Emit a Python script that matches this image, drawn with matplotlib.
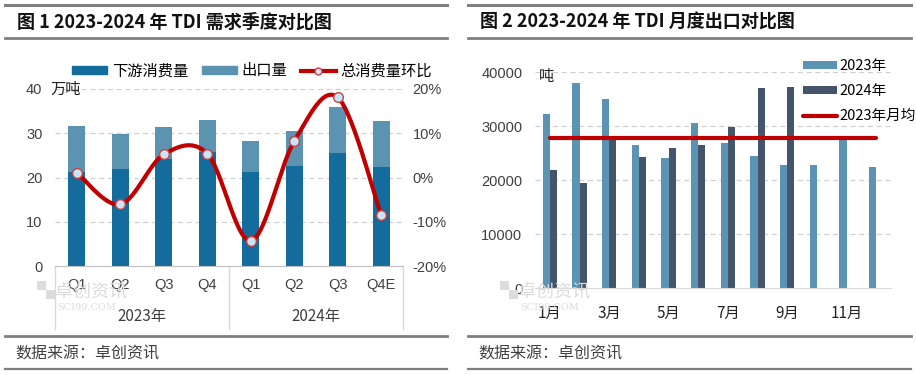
"""TDI quarterly demand and monthly export comparison, two panels side by side."""
import numpy as np
import matplotlib as mpl
import matplotlib.pyplot as plt
from matplotlib.lines import Line2D
from matplotlib.patches import Patch

mpl.rcParams.update({
    "font.family": ["Liberation Sans", "Noto Sans CJK SC", "DejaVu Sans"],
    "axes.unicode_minus": False,
})
CJK = ["Noto Sans CJK SC", "DejaVu Sans"]

# ---- figure 1 data (万吨, %) ----
quarters = ["Q1", "Q2", "Q3", "Q4", "Q1", "Q2", "Q3", "Q4E"]
years = ["2023年", "2024年"]
downstream = [21.3, 21.9, 24.1, 25.8, 21.3, 22.7, 25.5, 22.4]
exports_q = [10.4, 7.9, 7.3, 7.3, 6.9, 7.7, 10.4, 10.4]
qoq_pct = [1.1, -6.1, 5.2, 5.4, -14.3, 8.2, 18.1, -8.5]

# ---- figure 2 data (吨) ----
months = ["1月", "2月", "3月", "4月", "5月", "6月", "7月", "8月", "9月", "10月", "11月", "12月"]
exp_2023 = [32200, 37900, 35000, 26500, 24000, 30600, 26900, 24500, 22700, 22700, 27400, 22500]
exp_2024 = [21800, 19500, 27400, 24300, 26000, 26500, 29900, 37000, 37300]

C_DOWN = "#146C9C"
C_EXP = "#5B93B0"
C_RED = "#C00000"
C_23 = "#5A94B2"
C_24 = "#44546A"
C_GRID = "#D0D0D0"
W, H = 916, 375


def fx(px):
    return px / W


def fy(py):
    return 1 - py / H


def smooth(x, y, n=30):
    # Excel-style smoothed line (uniform Catmull-Rom through the points)
    x = np.asarray(x, float)
    y = np.asarray(y, float)
    px = np.concatenate([[x[0]], x, [x[-1]]])
    py = np.concatenate([[y[0]], y, [y[-1]]])
    xs, ys = [], []
    t = np.linspace(0, 1, n)
    for i in range(1, len(px) - 2):
        p0, p1, p2, p3 = (np.array([px[j], py[j]]) for j in range(i - 1, i + 3))
        c1 = p1 + (p2 - p0) / 6
        c2 = p2 - (p3 - p1) / 6
        b = ((1 - t) ** 3)[:, None] * p1 + (3 * (1 - t) ** 2 * t)[:, None] * c1 \
            + (3 * (1 - t) * t ** 2)[:, None] * c2 + (t ** 3)[:, None] * p2
        xs.append(b[:, 0])
        ys.append(b[:, 1])
    return np.concatenate(xs), np.concatenate(ys)


def panel_frame(fig, x0, x1, title):
    for yy, lw in ((5, 2.2), (38, 2.0), (336, 2.0), (369, 1.6)):
        fig.add_artist(Line2D([fx(x0), fx(x1)], [fy(yy), fy(yy)], color="#7F7F7F", lw=lw))
    fig.text(fx(x0 + 12), fy(22), title, family=CJK, fontsize=13, fontweight="bold",
             va="center", ha="left", color="#111111")
    fig.text(fx(x0 + 10), fy(354), "数据来源：卓创资讯", family=CJK, fontsize=11.5,
             va="center", ha="left", color="#404040")


def watermark(fig, x, y):
    fig.text(fx(x), fy(y), "▚卓创资讯", family=CJK, fontsize=13, color="#DCDCDC",
             va="center", ha="left", zorder=0)
    fig.text(fx(x + 20), fy(y + 15), "SCI99.COM", family=["DejaVu Serif"], fontsize=7,
             color="#DCDCDC", va="center", ha="left", zorder=0)


fig = plt.figure(figsize=(W / 100, H / 100), dpi=100)
panel_frame(fig, 5, 447, "图 1 2023-2024 年 TDI 需求季度对比图")
panel_frame(fig, 468, 911, "图 2 2023-2024 年 TDI 月度出口对比图")

# ---------------- left panel ----------------
ax1 = fig.add_axes([fx(55), fy(266), fx(403 - 55), (266 - 89) / H])
xq = np.arange(len(quarters))
ax1.bar(xq, downstream, width=0.4, color=C_DOWN, zorder=2)
ax1.bar(xq, exports_q, width=0.4, bottom=downstream, color=C_EXP, zorder=2)
ax1.set_xlim(-0.5, len(quarters) - 0.5)
ax1.set_ylim(0, 40)
ax1.set_yticks(range(0, 41, 10))
for v in range(10, 41, 10):
    ax1.axhline(v, color=C_GRID, lw=0.9, ls=(0, (4, 3)), zorder=1)
for s in ("top", "right", "left"):
    ax1.spines[s].set_visible(False)
ax1.spines["bottom"].set_color("#BFBFBF")
ax1.tick_params(axis="y", length=0, pad=9, labelsize=10.5, labelcolor="#404040")
ax1.set_xticks(xq)
ax1.set_xticklabels(quarters)
ax1.tick_params(axis="x", length=0, pad=9, labelsize=10.5, labelcolor="#404040")
ax1.text(-0.014, 1.0, "万吨", transform=ax1.transAxes, family=CJK, fontsize=11,
         ha="left", va="center", color="#222222")
for xa in (0, 0.5, 1.0):
    ax1.add_artist(Line2D([xa, xa], [0, -63 / 177], transform=ax1.transAxes,
                          color="#D9D9D9", lw=1, clip_on=False))
for i, yr in enumerate(years):
    ax1.text(0.25 + 0.5 * i, -51 / 177, yr, transform=ax1.transAxes, family=CJK,
             fontsize=11, ha="center", va="center", color="#404040")

ax1r = ax1.twinx()
sx, sy = smooth(xq, qoq_pct)
ax1r.plot(sx, sy, color=C_RED, lw=3, zorder=3, solid_capstyle="round")
ax1r.plot(xq, qoq_pct, ls="none", marker="o", ms=7, mfc="#C9E6F7", mec="#D04040",
          mew=1, zorder=4)
ax1r.set_ylim(-20, 20)
ax1r.set_yticks(range(-20, 21, 10))
ax1r.set_yticklabels([f"{v}%" for v in range(-20, 21, 10)])
ax1r.tick_params(axis="y", length=0, pad=7, labelsize=10.5, labelcolor="#404040")
for s in ax1r.spines.values():
    s.set_visible(False)

h1 = [Patch(color=C_DOWN, label="下游消费量"), Patch(color=C_EXP, label="出口量"),
      Line2D([], [], color=C_RED, lw=3, marker="o", ms=5, mfc="#C9E6F7", mec="#D04040",
             label="总消费量环比")]
fig.legend(handles=h1, loc="center", bbox_to_anchor=(fx(252), fy(71)), ncol=3,
           frameon=False, prop={"family": CJK, "size": 11}, handlelength=2.3,
           handleheight=0.5, handletextpad=0.3, columnspacing=0.9, borderpad=0)
watermark(fig, 37, 292)

# ---------------- right panel ----------------
ax2 = fig.add_axes([fx(535), fy(288), fx(891 - 535), (288 - 72) / H])
xm = np.arange(len(months))
b23 = ax2.bar(xm - 0.12, exp_2023, width=0.24, color=C_23, zorder=2, label="2023年")
b24 = ax2.bar(np.arange(len(exp_2024)) + 0.12, exp_2024, width=0.24, color=C_24, zorder=2,
              label="2024年")
avg_2023 = np.mean(exp_2023)
(lavg,) = ax2.plot([0, len(months) - 1], [avg_2023, avg_2023], color=C_RED, lw=3, zorder=3,
                   solid_capstyle="round", label="2023年月均")
ax2.set_xlim(-0.5, len(months) - 0.5)
ax2.set_ylim(0, 40000)
ax2.set_yticks(range(0, 40001, 10000))
for v in range(10000, 40001, 10000):
    ax2.axhline(v, color=C_GRID, lw=0.9, ls=(0, (4, 3)), zorder=1)
for s in ("top", "right", "left"):
    ax2.spines[s].set_visible(False)
ax2.spines["bottom"].set_color("#D9D9D9")
ax2.tick_params(axis="y", length=0, pad=9, labelsize=10.5, labelcolor="#404040")
ax2.set_xticks(xm[::2])
ax2.set_xticklabels(months[::2], family=CJK)
ax2.tick_params(axis="x", length=0, pad=12, labelsize=11, labelcolor="#222222")
ax2.text(0.012, 0.98, "吨", transform=ax2.transAxes, family=CJK, fontsize=11,
         ha="left", va="center", color="#222222")
fig.legend(handles=[b23, b24, lavg], loc="upper left",
           bbox_to_anchor=(fx(796), fy(52)), frameon=False,
           prop={"family": CJK, "size": 10.5}, handlelength=2.3, handleheight=0.5,
           handletextpad=0.2, labelspacing=0.75, borderpad=0)
watermark(fig, 500, 292)

fig.savefig("out.png", dpi=100)
